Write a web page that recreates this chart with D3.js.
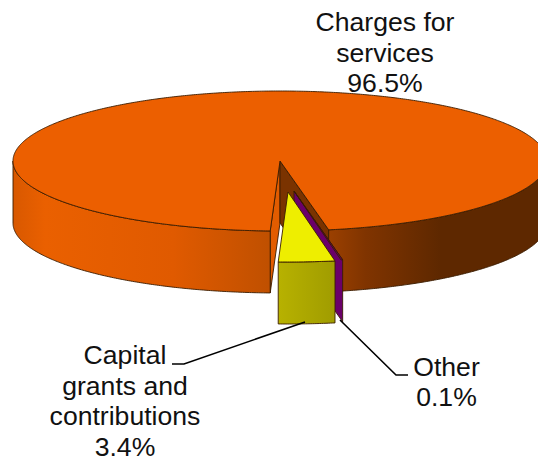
<!DOCTYPE html>
<html><head><meta charset="utf-8">
<script src="https://cdn.jsdelivr.net/npm/d3@7"></script>
<style>html,body{margin:0;padding:0;background:#fff}svg{display:block}text{font-family:"Liberation Sans",Arial,sans-serif;font-size:26.6px;fill:#111;text-anchor:middle}</style>
</head><body><svg id="c" width="538" height="460"></svg>
<script>
const categories = ["Charges for services", "Other", "Capital grants and contributions"];
const values = [96.5, 0.1, 3.4];
const labelLines = [["Charges for","services","96.5%"],["Other","0.1%"],["Capital","grants and","contributions","3.4%"]];
const topColors = ["#ec5f00", "#6a006a", "#eeee00"];
const wallGradStops = [[0,"#d85800"],[0.06,"#ea6000"],[0.3,"#e05a00"],[0.48,"#c05000"],[0.58,"#a04200"],[0.66,"#803400"],[0.8,"#5e2800"],[1,"#5e2800"]];
const capitalWallStops = [[0,"#b8b200"],[1,"#a09c00"]];

const W=538,H=460,cx=280,cy=161,rx=267,ry=70,depth=62;
const offsets=[[0,0],[14,30],[8,31]];
const labelPos=[[385,31],[446.5,376],[125,364]];
const lineGap=[30.5,30,30.5];
const leaders=[null,[[340,320],[396,375],[408,375]],[[305,322],[184,364],[172,364]]];

const deg=Math.PI/180;
const pie=d3.pie().sort(null).value(d=>d).startAngle(182.1*deg).endAngle((182.1+360)*deg);
const arcs=pie(values);
const sx=d3.scaleLinear().domain([-1,1]).range([cx-rx,cx+rx]);
const sy=d3.scaleLinear().domain([-1,1]).range([cy+ry,cy-ry]);
const pt=(a,o,dz=0)=>[sx(Math.sin(a))+o[0],sy(Math.cos(a))+o[1]+dz];
const apex=(o,dz=0)=>[cx+o[0],cy+o[1]+dz];
const line=d3.line();
const samples=(a0,a1)=>{const n=Math.max(2,Math.ceil(Math.abs(a1-a0)/(0.5*deg)));return d3.range(n+1).map(i=>a0+(a1-a0)*i/n);};

const svg=d3.select("#c");
const defs=svg.append("defs");
function grad(id,stops,x1,x2){
  const g=defs.append("linearGradient").attr("id",id).attr("gradientUnits","userSpaceOnUse")
    .attr("x1",x1).attr("x2",x2).attr("y1",0).attr("y2",0);
  stops.forEach(s=>g.append("stop").attr("offset",s[0]).attr("stop-color",s[1]));
}
grad("wall",wallGradStops,cx-rx,cx+rx);
grad("capwall",capitalWallStops,277,335);

const edge="#3a1c00", sw=0.9;
const poly=(pts,fill)=>svg.append("path").attr("d",line(pts)+"Z").attr("fill",fill).attr("stroke",edge).attr("stroke-width",sw).attr("stroke-linejoin","round");
const rim=(a0,a1,o,fill)=>{
  const s=samples(a0,a1);
  poly(s.map(a=>pt(a,o)).concat(s.slice().reverse().map(a=>pt(a,o,depth))),fill);
};
const topFace=(d,o,fill)=>poly([apex(o)].concat(samples(d.startAngle,d.endAngle).map(a=>pt(a,o))),fill);

// Charges for services: inner walls, outer wall, then top face
const a=arcs[0], o0=offsets[0];
const open1=a.endAngle, open0=a.startAngle;
poly([apex(o0),pt(open0,o0),pt(open0,o0,depth),apex(o0,depth)],"#e25c00");
poly([apex(o0),pt(open1,o0),pt(open1,o0,depth),apex(o0,depth)],"#7a3300");
rim(open0,270*deg,o0,"url(#wall)");
rim(450*deg,open1,o0,"url(#wall)");
topFace(a,o0,topColors[0]);

// Other: radial wall and top sliver
const b=arcs[1], o1=offsets[1];
poly([apex(o1),pt(b.startAngle,o1),pt(b.startAngle,o1,depth),apex(o1,depth)],topColors[1]);
topFace(b,o1,topColors[1]);

// Capital grants: outer wall and top
const c=arcs[2], o2=offsets[2];
rim(c.startAngle,c.endAngle,o2,"url(#capwall)");
topFace(c,o2,topColors[2]);

// leaders
leaders.forEach(l=>{ if(l) svg.append("path").attr("d",line(l)).attr("fill","none").attr("stroke","#000").attr("stroke-width",1.6); });

// labels
labelLines.forEach((ls,i)=>{
  const t=svg.append("text");
  ls.forEach((s,j)=>t.append("tspan").attr("x",labelPos[i][0]).attr("y",labelPos[i][1]+j*lineGap[i]).text(s));
});
</script></body></html>
